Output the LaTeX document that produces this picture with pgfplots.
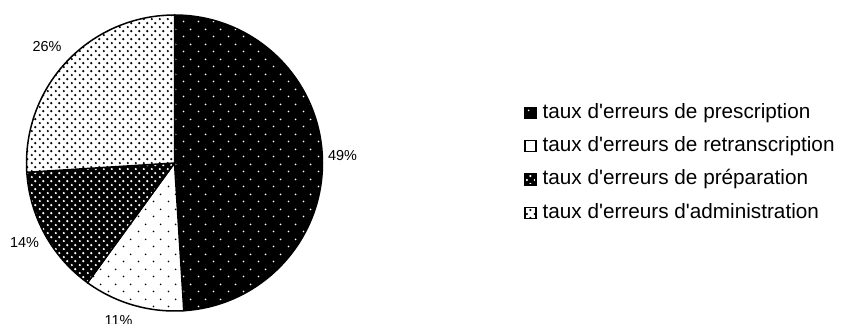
\documentclass[border=0pt]{standalone}
\usepackage{fontspec}
\setmainfont{Liberation Sans}
\usepackage{pgfplots}
\usepackage{pgfplotstable}
\pgfplotsset{compat=1.18}
\usetikzlibrary{patterns.meta}

\pgfdeclarepattern{
  name=sparsedots, type=uncolored,
  bottom left={\pgfpointorigin}, top right={\pgfpoint{15bp}{15bp}},
  tile size={\pgfpoint{15bp}{15bp}},
  code={\pgfpathcircle{\pgfpoint{3.75bp}{3.75bp}}{1bp}
        \pgfpathcircle{\pgfpoint{11.25bp}{11.25bp}}{1bp}
        \pgfusepath{fill}}}
\pgfdeclarepattern{
  name=densedots, type=uncolored,
  bottom left={\pgfpointorigin}, top right={\pgfpoint{7.5bp}{8.4bp}},
  tile size={\pgfpoint{7.5bp}{8.4bp}},
  code={\pgfpathcircle{\pgfpoint{1.875bp}{2.1bp}}{1.3bp}
        \pgfpathcircle{\pgfpoint{5.625bp}{6.3bp}}{1.3bp}
        \pgfusepath{fill}}}

\tikzset{
  sliceA/.style={draw=black, preaction={fill=black}, pattern=sparsedots, pattern color=white},
  sliceB/.style={draw=black, preaction={fill=white}, pattern=sparsedots, pattern color=black},
  sliceC/.style={draw=black, preaction={fill=black}, pattern=densedots, pattern color=white},
  sliceD/.style={draw=black, preaction={fill=white}, pattern=densedots, pattern color=black},
}

\begin{document}
\begin{tikzpicture}
\pgfplotstableread{
cat value
prescription 49
retranscription 11
preparation 14
administration 26
}\piedata
\pgfplotstablegetelem{0}{value}\of\piedata\let\vA\pgfplotsretval
\pgfplotstablegetelem{1}{value}\of\piedata\let\vB\pgfplotsretval
\pgfplotstablegetelem{2}{value}\of\piedata\let\vC\pgfplotsretval
\pgfplotstablegetelem{3}{value}\of\piedata\let\vD\pgfplotsretval
\pgfmathsetmacro\aZero{90}
\pgfmathsetmacro\aOne{\aZero-3.6*\vA}
\pgfmathsetmacro\aTwo{\aOne-3.6*\vB}
\pgfmathsetmacro\aThree{\aTwo-3.6*\vC}
\pgfmathsetmacro\aFour{\aThree-3.6*\vD}
\path[use as bounding box] (0,0) rectangle (845bp,324bp);
\begin{axis}[
  hide axis, x=1bp, y=1bp, xmin=0, xmax=845, ymin=0, ymax=324,
  scale only axis, at={(0,0)}, anchor=south west, clip=false,
  legend image code/.code={\draw[#1, line width=1.5bp] (0bp,-5.5bp) rectangle (11bp,5.5bp);},
  legend cell align=left,
  legend style={at={(0.6201,0.6821)}, anchor=north west, draw=none, fill=none,
    inner sep=0pt, row sep=14bp, column sep=6bp,
    font=\fontsize{20.8}{24}\selectfont,
    nodes={inner sep=0pt, text height=15bp, text depth=4.3bp}},
]
\draw[sliceA, line width=1.5bp] (axis cs:174.5,161) -- ++(\aZero:148bp) arc[start angle=\aZero, end angle=\aOne, radius=148bp] -- cycle;
\draw[sliceB, line width=1.5bp] (axis cs:174.5,161) -- ++(\aOne:148bp) arc[start angle=\aOne, end angle=\aTwo, radius=148bp] -- cycle;
\draw[sliceC, line width=1.5bp] (axis cs:174.5,161) -- ++(\aTwo:148bp) arc[start angle=\aTwo, end angle=\aThree, radius=148bp] -- cycle;
\draw[sliceD, line width=1.5bp] (axis cs:174.5,161) -- ++(\aThree:148bp) arc[start angle=\aThree, end angle=\aFour, radius=148bp] -- cycle;

\node[font=\fontsize{14.5}{17}\selectfont] at (axis cs:342.5,168) {\vA\%};
\node[font=\fontsize{14.5}{17}\selectfont] at (axis cs:118.5,3) {\vB\%};
\node[font=\fontsize{14.5}{17}\selectfont] at (axis cs:24.5,81) {\vC\%};
\node[font=\fontsize{14.5}{17}\selectfont] at (axis cs:47,277) {\vD\%};

\addlegendimage{sliceA}
\addlegendentry{taux d\textquotesingle erreurs de prescription}
\addlegendimage{sliceB}
\addlegendentry{taux d\textquotesingle erreurs de retranscription}
\addlegendimage{sliceC}
\addlegendentry{taux d\textquotesingle erreurs de préparation}
\addlegendimage{sliceD}
\addlegendentry{taux d\textquotesingle erreurs d\textquotesingle administration}
\end{axis}
\end{tikzpicture}
\end{document}
